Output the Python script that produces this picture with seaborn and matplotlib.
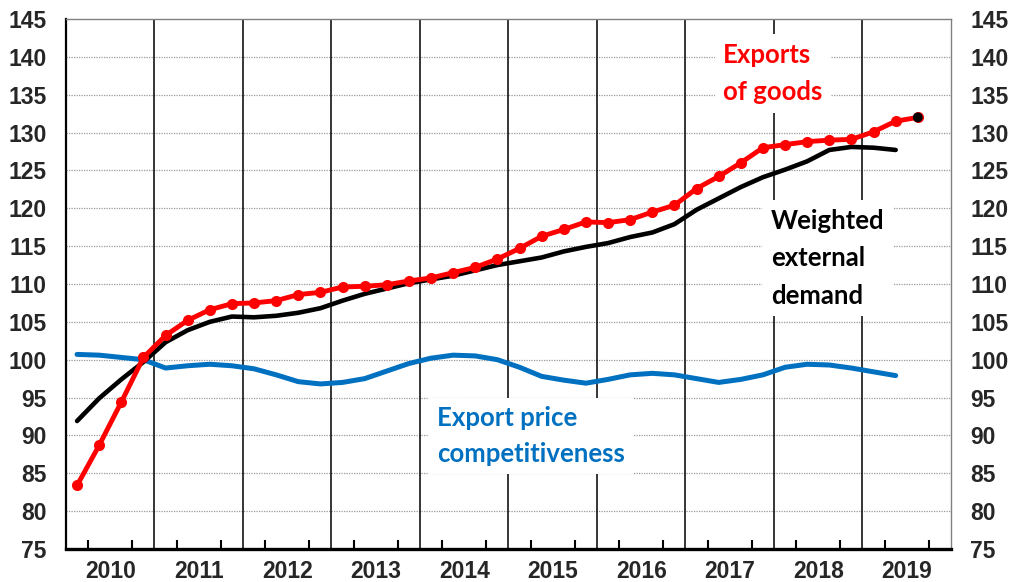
import matplotlib
matplotlib.use("Agg")
import matplotlib.pyplot as plt
import seaborn as sns
import pandas as pd
import numpy as np

# quarterly data, 2010Q1 .. 2019Q3
years = [str(y) for y in range(2010, 2020)]

exports_goods = [
    83.4, 88.7, 94.4, 100.3,
    103.2, 105.2, 106.6, 107.4,
    107.5, 107.8, 108.6, 108.9,
    109.6, 109.7, 109.9, 110.4,
    110.8, 111.5, 112.2, 113.3,
    114.7, 116.3, 117.2, 118.2,
    118.1, 118.5, 119.5, 120.4,
    122.6, 124.2, 126.0, 128.0,
    128.4, 128.8, 129.0, 129.1,
    130.1, 131.5, 132.0,
]

external_demand = [
    91.9, 94.9, 97.4, 99.7,
    102.3, 103.9, 105.0, 105.7,
    105.6, 105.8, 106.2, 106.8,
    107.8, 108.7, 109.4, 110.1,
    110.6, 111.1, 111.8, 112.5,
    113.0, 113.5, 114.3, 114.9,
    115.4, 116.2, 116.8, 117.9,
    119.8, 121.3, 122.8, 124.1,
    125.1, 126.2, 127.7, 128.1,
    128.0, 127.7,
]

price_competitiveness = [
    100.7, 100.6, 100.3, 100.0,
    98.9, 99.2, 99.4, 99.2,
    98.8, 98.0, 97.1, 96.8,
    97.0, 97.5, 98.5, 99.5,
    100.2, 100.6, 100.5, 100.0,
    99.0, 97.8, 97.3, 96.9,
    97.4, 98.0, 98.2, 98.0,
    97.5, 97.0, 97.4, 98.0,
    99.0, 99.4, 99.3, 98.9,
    98.4, 97.9,
]


def to_frame(values):
    return pd.DataFrame({"q": np.arange(len(values)) + 0.5, "value": values})


def main():
    sns.set_theme(style="white")
    plt.rcParams["font.family"] = ["Liberation Sans", "DejaVu Sans"]

    fig, ax = plt.subplots(figsize=(10.09, 5.82), dpi=100)
    fig.subplots_adjust(left=0.0654, right=0.9425, bottom=0.0567, top=0.9674)

    # grid + year separators
    for v in range(80, 145, 5):
        ax.axhline(v, color="#9a9a9a", lw=0.9, ls=(0, (1, 1)), zorder=0)
    for k in range(1, len(years)):
        ax.axvline(4 * k, color="black", lw=1.1, zorder=0.5)

    sns.lineplot(data=to_frame(price_competitiveness), x="q", y="value",
                 color="#0070C0", lw=3.6, ax=ax, zorder=3)
    sns.lineplot(data=to_frame(external_demand), x="q", y="value",
                 color="black", lw=3.3, ax=ax, zorder=3)
    sns.lineplot(data=to_frame(exports_goods), x="q", y="value",
                 color="#FF0000", lw=3.5, marker="o", markersize=8,
                 markeredgewidth=0, ax=ax, zorder=4)
    # last point drawn in black
    last = to_frame(exports_goods).iloc[[-1]]
    sns.scatterplot(data=last, x="q", y="value", color="black", s=50,
                    edgecolor="none", ax=ax, zorder=5)

    ax.set_xlim(0, 4 * len(years))
    ax.set_ylim(75, 145)
    ax.set_xlabel("")
    ax.set_ylabel("")

    ax.set_xticks([4 * k + 2 for k in range(len(years))])
    ax.set_xticklabels(years)
    ax.set_xticks([4 * k + m for k in range(len(years)) for m in (1, 3)], minor=True)
    ax.tick_params(axis="x", which="major", direction="in", length=9.5, width=1.5,
                   color="black", pad=8, labelsize=16.5)
    ax.tick_params(axis="x", which="minor", direction="in", length=6.5, width=1.5,
                   color="black", bottom=True)

    ax.set_yticks(range(75, 150, 5))
    ax.tick_params(axis="y", length=0, pad=14, labelsize=16.5,
                   labelleft=True, labelright=True)
    for lab in ax.get_xticklabels() + ax.get_yticklabels():
        lab.set_fontweight("bold")
    for t in ax.yaxis.get_major_ticks():
        t.label2.set_fontweight("bold")

    ax.spines["left"].set_color("black")
    ax.spines["left"].set_linewidth(1.6)
    ax.spines["bottom"].set_color("black")
    ax.spines["bottom"].set_linewidth(2.4)
    for side in ("top", "right"):
        ax.spines[side].set_color("#808080")
        ax.spines[side].set_linewidth(1.0)

    box = dict(facecolor="white", edgecolor="none", pad=6)
    label_font = ["Lato", "DejaVu Sans"]
    ax.text(29.7, 137.8, "Exports\nof goods", color="#FF0000", fontsize=18.5,
            fontweight="bold", family=label_font, ha="left", va="center",
            linespacing=1.68, bbox=box, zorder=2)
    ax.text(31.85, 113.4, "Weighted\nexternal\ndemand", color="black", fontsize=18.5,
            fontweight="bold", family=label_font, ha="left", va="center",
            linespacing=1.68, bbox=box, zorder=2)
    ax.text(16.77, 89.9, "Export price\ncompetitiveness", color="#0070C0",
            fontsize=18.5, fontweight="bold", family=label_font, ha="left",
            va="center", linespacing=1.6, bbox=box, zorder=2)

    fig.savefig("out.png", dpi=100)


if __name__ == "__main__":
    main()
